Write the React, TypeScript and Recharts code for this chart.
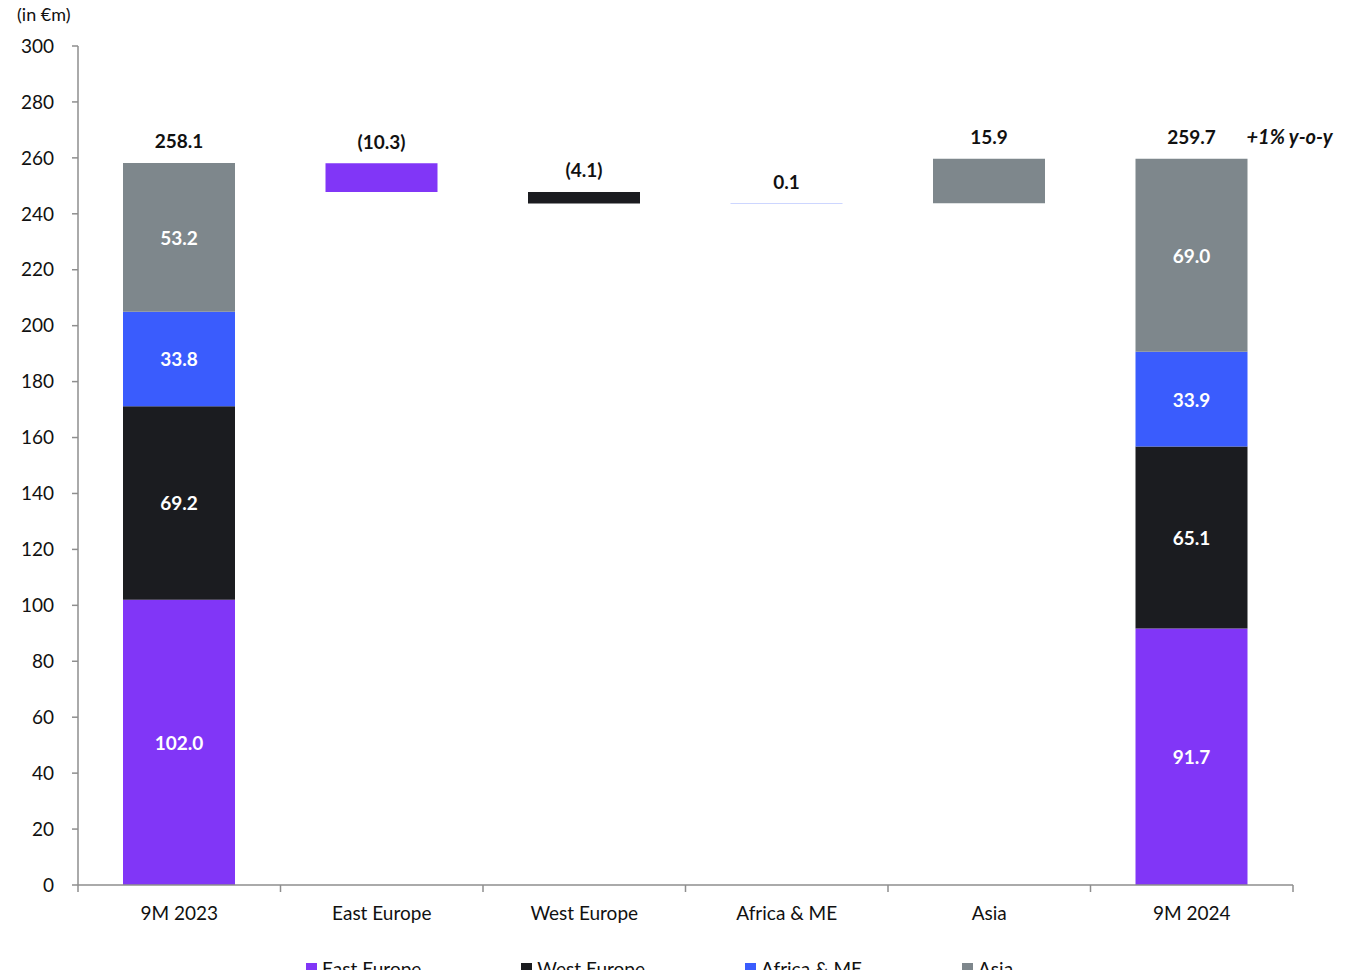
import { BarChart, Bar, XAxis, YAxis, Legend, LabelList } from 'recharts';

const categories = ['9M 2023', 'East Europe', 'West Europe', 'Africa & ME', 'Asia', '9M 2024'];
const eastValues = [102.0, 10.3, 0, 0, 0, 91.7];
const westValues = [69.2, 0, 4.1, 0, 0, 65.1];
const africaValues = [33.8, 0, 0, 0.1, 0, 33.9];
const asiaValues = [53.2, 0, 0, 0, 15.9, 69.0];
const startTotal = 258.1;
const changes = [0, -10.3, -4.1, 0.1, 15.9, 0];
const isTotal = [true, false, false, false, false, true];
const topLabels = ['258.1', '(10.3)', '(4.1)', '0.1', '15.9', '259.7'];
const yTicks = [0, 20, 40, 60, 80, 100, 120, 140, 160, 180, 200, 220, 240, 260, 280, 300];
const yoyNote = '+1% y-o-y';

const series = [
  { key: 'east', name: 'East Europe', color: '#8136f7', values: eastValues },
  { key: 'west', name: 'West Europe', color: '#1b1c20', values: westValues },
  { key: 'africa', name: 'Africa & ME', color: '#3a5cfd', values: africaValues },
  { key: 'asia', name: 'Asia', color: '#7e878c', values: asiaValues },
];

// invisible offset for the floating bars
let running = startTotal;
const bases = categories.map((_, i) => {
  if (isTotal[i]) return 0;
  const c = changes[i];
  const b = c < 0 ? running + c : running;
  running += c;
  return Math.round(b * 10) / 10;
});

const data = categories.map((name, i) => {
  const row: any = { name, base: bases[i] };
  series.forEach((s) => (row[s.key] = s.values[i]));
  return row;
});

// which series sits on top of each column
const topKey = categories.map((_, i) => {
  let k = '';
  series.forEach((s) => {
    if (s.values[i] > 0) k = s.key;
  });
  return k;
});

const FONT = 'Lato, "Open Sans", sans-serif';
const W = 1355;
const H = 978;
const margin = { top: 46, right: 62, left: 18, bottom: 9 };
const Y_W = 60;
const PLOT_LEFT = margin.left + Y_W;
const BAND = (W - PLOT_LEFT - margin.right) / categories.length;
const AXIS = '#8e8e8e';

const CategoryTick = (props: any) => {
  const { x, y, payload } = props;
  const i = categories.indexOf(payload.value);
  const half = BAND / 2;
  return (
    <g>
      <line x1={x - half} y1={y} x2={x - half} y2={y + 7} stroke={AXIS} strokeWidth={1.5} />
      {i === categories.length - 1 && (
        <line x1={x + half} y1={y} x2={x + half} y2={y + 7} stroke={AXIS} strokeWidth={1.5} />
      )}
      <text x={x} y={y + 27} textAnchor="middle" dominantBaseline="central" fontSize={19} fill="#111" fontFamily={FONT}>
        {payload.value}
      </text>
    </g>
  );
};

const makeLabel = (key: string) => (props: any) => {
  const { x, y, width, height, value } = props;
  const cx = x + width / 2;
  const col = Math.floor((cx - PLOT_LEFT) / BAND);
  const out: any[] = [];
  if (isTotal[col]) {
    out.push(
      <text key="in" x={cx} y={y + height / 2} textAnchor="middle" dominantBaseline="central" fill="#fff" fontWeight={700} fontSize={19} fontFamily={FONT}>
        {Number(value).toFixed(1)}
      </text>
    );
  }
  if (topKey[col] === key) {
    out.push(
      <text key="top" x={cx} y={y - 22} textAnchor="middle" dominantBaseline="central" fill="#111" fontWeight={700} fontSize={19} fontFamily={FONT}>
        {topLabels[col]}
      </text>
    );
    if (col === categories.length - 1) {
      out.push(
        <text key="yoy" x={x + width - 1} y={y - 23} textAnchor="start" dominantBaseline="central" fill="#111" fontWeight={700} fontStyle="italic" fontSize={20} fontFamily={FONT}>
          {yoyNote}
        </text>
      );
    }
  }
  return <g>{out}</g>;
};

const LegendContent = () => (
  <div style={{ display: 'flex', gap: 100, paddingLeft: 306, height: 24, alignItems: 'center', fontFamily: FONT, fontSize: 19, color: '#111' }}>
    {series.map((s) => (
      <div key={s.key} style={{ display: 'flex', alignItems: 'center', whiteSpace: 'nowrap' }}>
        <span style={{ display: 'inline-block', width: 11, height: 11, background: s.color, marginRight: 5 }} />
        {s.name}
      </div>
    ))}
  </div>
);

export default function App() {
  return (
    <div style={{ position: 'relative', margin: -8, width: W, height: H, overflow: 'hidden', background: '#fff' }}>
      <div
        style={{
          position: 'absolute', top: -27, right: 350, whiteSpace: 'nowrap', fontFamily: FONT,
          fontSize: 32, lineHeight: '36px', fontWeight: 700, color: '#3355ff',
        }}
      >
        Net revenue bridge – evolution by geography
      </div>
      <div style={{ position: 'absolute', left: 17, top: 3, fontFamily: FONT, fontSize: 18, color: '#111' }}>(in €m)</div>
      <BarChart width={W} height={H} data={data} margin={margin} barSize={112}>
        <XAxis
          dataKey="name"
          interval={0}
          tickLine={false}
          tickSize={0}
          tickMargin={0}
          height={60}
          axisLine={{ stroke: AXIS, strokeWidth: 1.5 }}
          tick={<CategoryTick />}
        />
        <YAxis
          width={Y_W}
          domain={[0, 300]}
          ticks={yTicks}
          interval={0}
          tickSize={6}
          tickMargin={18}
          axisLine={{ stroke: AXIS, strokeWidth: 1.5 }}
          tickLine={{ stroke: AXIS, strokeWidth: 1.5 }}
          tick={{ fontSize: 19, fill: '#111', fontFamily: FONT }}
        />
        <Legend content={<LegendContent />} wrapperStyle={{ left: 0, width: W, bottom: -2 }} />
        <Bar dataKey="base" stackId="a" fill="transparent" isAnimationActive={false} legendType="none" />
        {series.map((s) => (
          <Bar key={s.key} dataKey={s.key} name={s.name} stackId="a" fill={s.color} isAnimationActive={false}>
            <LabelList dataKey={s.key} content={makeLabel(s.key)} />
          </Bar>
        ))}
      </BarChart>
    </div>
  );
}
